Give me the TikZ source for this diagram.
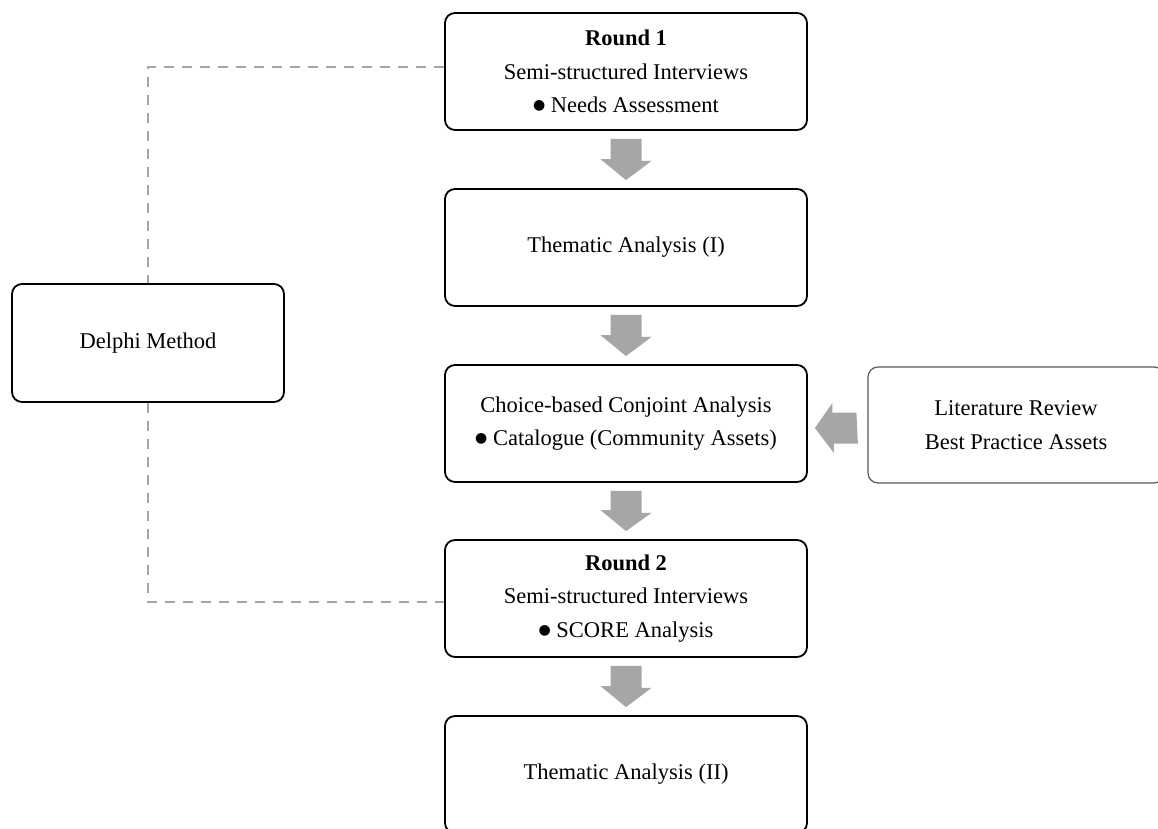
\documentclass[tikz,border=0pt]{standalone}
\usepackage{fontspec}
\setmainfont{Liberation Serif}
\newfontfamily\dvfont{DejaVu Sans}
\usetikzlibrary{calc}
\definecolor{arrgray}{HTML}{A6A6A6}
\definecolor{dashgray}{HTML}{A6A6A6}
\definecolor{litgray}{HTML}{595959}
\newcommand\blt{\raisebox{3pt}{\dvfont\fontsize{14}{14}\selectfont ●}}
\tikzset{
  box/.style={draw=black, line width=1.8pt, rounded corners=10pt, fill=white,
    minimum width=362pt, minimum height=117pt, inner sep=0pt, align=center,
    font=\fontsize{22.5}{33.5}\selectfont},
  sidebox/.style={box, minimum width=272pt, minimum height=118pt},
  litbox/.style={box, draw=litgray, line width=1.2pt, minimum width=296pt, minimum height=116pt},
  dashline/.style={draw=dashgray, line width=1.5pt, dash pattern=on 10pt off 8pt},
  arrfill/.style={fill=arrgray}
}
\newcommand\grayDown[2]{%
  \fill[arrfill] ($(#1.south)+(-15.5,8)$) -- ++(31,0) -- ++(0,22) -- ++(10,0)
    -- ($(#2.north)+(0,-8)$) -- ++(-25.5,-21) -- ++(10,0) -- cycle;}
\begin{document}
\begin{tikzpicture}[x=1pt,y=-1pt]
\clip (0,0) rectangle (1158,828);
\fill[white] (0,0) rectangle (1158,828);
\node[box] (r1) at (626,71.5) {\textbf{Round 1}\\Semi-structured Interviews\\\blt\ Needs Assessment};
\node[box] (ta1) at (626,247.5) {Thematic Analysis (I)};
\node[box] (cb) at (626,423.5) {Choice-based Conjoint Analysis\\\blt\ Catalogue (Community Assets)};
\node[box] (r2) at (626,598.5) {\textbf{Round 2}\\Semi-structured Interviews\\\blt\ SCORE Analysis};
\node[box] (ta2) at (626,774.5) {Thematic Analysis (II)};
\node[sidebox] (del) at (148,343) {Delphi Method};
\node[litbox] (lit) at (1016,425) {Literature Review\\Best Practice Assets};
\draw[dashline] ([yshift=4.5pt]r1.west) -| (del.north);
\draw[dashline] (del.south) |- ([yshift=-3.5pt]r2.west);
\grayDown{r1}{ta1}
\grayDown{ta1}{cb}
\grayDown{cb}{r2}
\grayDown{r2}{ta2}
\fill[arrfill] ($(lit.west)+(-11,-12.5)$) -- ++(-24,0) -- ++(0,-9.5)
  -- ($(cb.east)+(7,4.5)$) -- ++(19,25) -- ++(0,-9.5) -- ++(24,0) -- cycle;
\end{tikzpicture}
\end{document}
